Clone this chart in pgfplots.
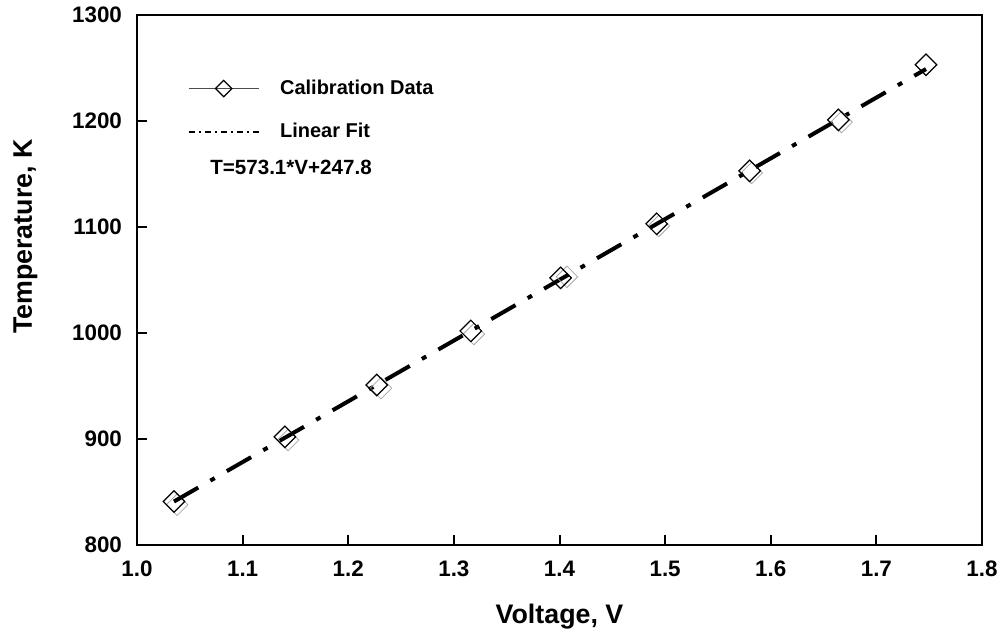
\documentclass[border=0pt]{standalone}
\usepackage{pgfplots}
\pgfplotsset{compat=1.18}
\usepackage{fontspec}
\setmainfont{Liberation Sans}
\pgfplotsset{
  calleg/.style={legend image code/.code={%
    \draw[black!70, line width=0.5pt, mark=square, mark size=2.9pt, mark options={rotate=45, black, solid, line width=0.6pt}, mark repeat=2, mark phase=2]
      plot coordinates {(0pt,0pt) (17.5pt,0pt) (35pt,0pt)};
    \path (43.5pt,0pt);}},
  fitleg/.style={legend image code/.code={%
    \draw[black, line width=0.6pt, dash pattern=on 3pt off 2pt on 1pt off 2pt] (0pt,0pt) -- (35pt,0pt);
    \path (43.5pt,0pt);}},
}
\begin{document}
\begin{tikzpicture}
\useasboundingbox (-68.5pt,-44pt) rectangle (432.5pt,272.5pt);
\begin{axis}[
  at={(0,0)}, anchor=south west,
  scale only axis, width=422.5pt, height=265pt,
  xmin=1.0, xmax=1.8, ymin=800, ymax=1300,
  xtick={1.0,1.1,...,1.8}, ytick={800,900,...,1300},
  xticklabel style={/pgf/number format/fixed, /pgf/number format/fixed zerofill, /pgf/number format/precision=1, yshift=-4.3pt},
  yticklabel style={/pgf/number format/fixed, /pgf/number format/1000 sep={}, xshift=-4pt},
  /pgf/number format/assume math mode=true,
  tick align=inside, major tick length=5pt,
  xtick pos=bottom, ytick pos=left,
  axis line style={line width=1pt}, tick style={line width=1pt,black},
  ticklabel style={font=\bfseries\fontsize{11.2}{13}\selectfont},
  xlabel={Voltage, V}, ylabel={Temperature, K},
  label style={font=\bfseries\fontsize{13.4}{16}\selectfont},
  xlabel style={at={(axis description cs:0.5,0)}, anchor=base, yshift=-39pt},
  ylabel style={at={(axis description cs:-0.1243,0.582)}, anchor=base},
  legend style={draw=none, fill=none, at={(axis cs:1.048,1243)}, anchor=north west,
    font=\bfseries\fontsize{10}{12}\selectfont, row sep=9pt, inner sep=0pt},
  legend cell align=left,
]
\addplot[only marks, mark=square, mark size=3.8pt, mark options={rotate=45, gray!70, line width=0.4pt}, forget plot]
  coordinates {(1.038,838) (1.143,899) (1.231,948) (1.319,999) (1.407,1053) (1.494,1101) (1.582,1151) (1.667,1199)};
\addplot[only marks, mark=square, mark size=3.8pt, mark options={rotate=45, black, line width=0.6pt}, forget plot]
  coordinates {(1.035,841) (1.140,902) (1.227,951) (1.316,1002) (1.401,1052) (1.492,1103) (1.580,1153) (1.664,1201) (1.747,1253)};
\addplot[black, line width=2pt, dash pattern=on 14pt off 7pt on 2.5pt off 7pt, forget plot]
  coordinates {(1.035,841.0) (1.747,1249.0)};
\addlegendimage{calleg}
\addlegendentry{Calibration Data}
\addlegendimage{fitleg}
\addlegendentry{Linear Fit}
\node[anchor=west, font=\bfseries\fontsize{10.3}{12}\selectfont, inner sep=0pt] at (axis cs:1.069,1156) {T=573.1*V+247.8};
\end{axis}
\end{tikzpicture}
\end{document}
